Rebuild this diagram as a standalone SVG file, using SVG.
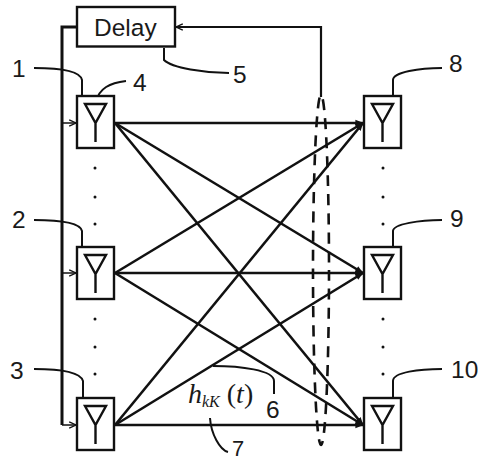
<svg xmlns="http://www.w3.org/2000/svg" width="478" height="462" viewBox="0 0 478 462">
<style>
text{font-family:"Liberation Sans","DejaVu Sans",sans-serif;font-size:24.500px;fill:#1a1a1a}
.box{fill:#fff;stroke:#111;stroke-width:2.400}
.ant{fill:none;stroke:#111;stroke-width:2.400}
.lead{fill:none;stroke:#111;stroke-width:2}
.link{fill:none;stroke:#111;stroke-width:2.600}
.thin{fill:none;stroke:#111;stroke-width:1.500}
.dot{fill:#111}
</style>
<defs>
<marker id="a" viewBox="0 0 10 10" refX="9.500" refY="5" markerWidth="8" markerHeight="8" markerUnits="userSpaceOnUse" orient="auto"><path d="M1 1L9.500 5L1 9" fill="none" stroke="#111" stroke-width="1.600"/></marker>
<marker id="b" viewBox="0 0 10 10" refX="9.500" refY="5" markerWidth="8" markerHeight="8" markerUnits="userSpaceOnUse" orient="auto"><path d="M0 1L10 5L0 9Z" fill="#111"/></marker>
<g id="t"><rect class="box" x="0" y="0" width="37" height="52"/><path class="ant" d="M8 8H29L18.500 27ZM18.500 27V46"/></g>
</defs>
<g id="connectors">
<path d="M77 27H62V425" fill="none" stroke="#111" stroke-width="3"/>
<path class="thin" d="M62 123H76" marker-end="url(#a)"/>
<path class="thin" d="M62 273H76" marker-end="url(#a)"/>
<path class="thin" d="M62 425H76" marker-end="url(#a)"/>
<path d="M321 97V27H176" fill="none" stroke="#111" stroke-width="2.200" marker-end="url(#a)"/>
<path class="link" marker-end="url(#b)" d="M115 123H363"/>
<path class="link" marker-end="url(#b)" d="M115 123L363 273"/>
<path class="link" marker-end="url(#b)" d="M115 123L363 425"/>
<path class="link" marker-end="url(#b)" d="M115 273L363 123"/>
<path class="link" marker-end="url(#b)" d="M115 273H363"/>
<path class="link" marker-end="url(#b)" d="M115 273L363 425"/>
<path class="link" marker-end="url(#b)" d="M115 425L363 123"/>
<path class="link" marker-end="url(#b)" d="M115 425L363 273"/>
<path class="link" marker-end="url(#b)" d="M115 425H363"/>
<ellipse cx="321" cy="270" rx="8" ry="175" fill="none" stroke="#111" stroke-width="2.600" stroke-dasharray="11 8"/>
</g>
<g id="delay"><rect class="box" x="77" y="7" width="98" height="39.500"/><text x="94" y="36">Delay</text></g>
<g id="leads">
<path class="lead" d="M34 68C55 68 80 70 82 80V96"/>
<path class="lead" d="M34 220C55 220 80 222 82 231V247"/>
<path class="lead" d="M34 369C55 369 80 371 83 381V398"/>
<path class="lead" d="M126 81C110 83 99 88 96 102"/>
<path class="lead" d="M164 48V60C172 68 205 73 229 73"/>
<path class="lead" d="M442 68C420 68 393 72 393 80V96"/>
<path class="lead" d="M442 220C420 220 393 224 393 231V247"/>
<path class="lead" d="M442 369C420 369 393 372 393 381V398"/>
<path class="lead" d="M213 366C240 366 274 370 274 381V394"/>
<path class="lead" d="M210 418C211 434 220 450 228 452"/>
</g>
<g id="node-1"><use href="#t" x="77" y="96"/><text x="12" y="77">1</text></g>
<g id="node-2"><use href="#t" x="77" y="247"/><text x="12" y="228">2</text></g>
<g id="node-3"><use href="#t" x="77" y="398"/><text x="10" y="379">3</text></g>
<g id="node-4"><text x="133" y="91">4</text></g>
<g id="node-5"><text x="233" y="83">5</text></g>
<g id="node-6"><text x="266" y="418">6</text></g>
<g id="node-7"><text x="232" y="456" style="font-size:22px">7</text></g>
<g id="node-8"><use href="#t" x="364" y="96"/><text x="449" y="72">8</text></g>
<g id="node-9"><use href="#t" x="364" y="247"/><text x="450" y="227">9</text></g>
<g id="node-10"><use href="#t" x="364" y="398"/><text x="451" y="378">10</text></g>
<g id="dots" class="dot">
<circle cx="95" cy="197" r="1.500"/><circle cx="95" cy="224" r="1.500"/><circle cx="95" cy="347" r="1.500"/><circle cx="95" cy="374" r="1.500"/>
<circle cx="383" cy="197" r="1.500"/><circle cx="383" cy="224" r="1.500"/><circle cx="383" cy="347" r="1.500"/><circle cx="383" cy="374" r="1.500"/>
<circle cx="95" cy="168" r="1.500"/><circle cx="383" cy="168" r="1.500"/><circle cx="95" cy="319" r="1.500"/><circle cx="383" cy="319" r="1.500"/>
</g>
<g id="label"><text x="188" y="403" style="font-family:'Liberation Serif',serif;font-size:28px;font-style:italic">h<tspan font-size="16" dy="4">kK</tspan><tspan dy="-4" font-style="normal"> (</tspan>t<tspan font-style="normal">)</tspan></text></g>
</svg>
